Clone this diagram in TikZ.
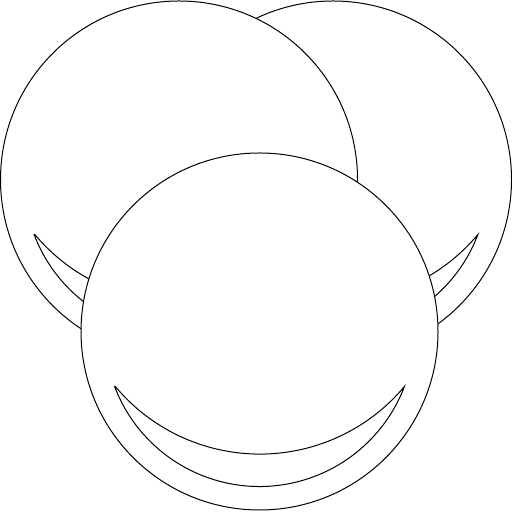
\documentclass[tikz,border=0pt]{standalone}
\begin{document}
\begin{tikzpicture}[x=0.5pt,y=0.5pt,line width=0.5pt,
  ballline/.style={draw=black,fill=white,line join=miter}]
\useasboundingbox (0,0) rectangle (512,512);
\foreach \cx/\cy in {333/332.5, 179/332.5, 259.5/180.5}{
  \coordinate (c) at (\cx,\cy);
  \draw[ballline] (c) circle[radius=178.5];
  \draw[ballline] (c) ++(200.8:155) arc[start angle=200.8, end angle=339.2, radius=155]
     arc[start angle=320.1, end angle=219.9, radius=188.4] -- cycle;
}
\end{tikzpicture}
\end{document}
